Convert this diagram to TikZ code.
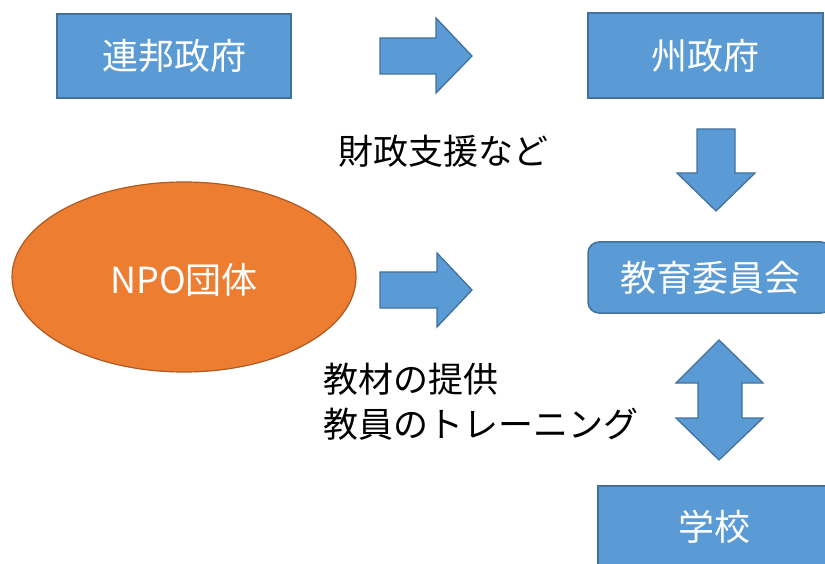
\documentclass[tikz,border=0pt]{standalone}
\usepackage{fontspec}
\setmainfont{Noto Sans CJK JP}
\definecolor{bfill}{HTML}{5B9BD5}
\definecolor{bline}{HTML}{41719C}
\definecolor{ofill}{HTML}{ED7D31}
\definecolor{oline}{HTML}{AE5A21}
\begin{document}
\begin{tikzpicture}[x=1pt,y=-1pt,
  boxst/.style={fill=bfill,draw=bline,line width=1.5pt,text=white,font=\fontsize{36}{40}\selectfont},
  blockarrow/.style={fill=bfill,draw=bline,line width=1.3pt,line join=miter},
  lbl/.style={text=black,font=\fontsize{35}{44}\selectfont}]
\useasboundingbox (0,0) rectangle (825,564);
\clip (0,0) rectangle (825,564);
% boxes
\draw[boxst] (57,14) rectangle (291,98);
\node[text=white,font=\fontsize{36}{40}\selectfont] (fed) at (174,56) {連邦政府};
\draw[boxst] (588,13) rectangle (823,98);
\node[text=white,font=\fontsize{36}{40}\selectfont] (state) at (705,56) {州政府};
\draw[boxst,rounded corners=11pt] (588,242) rectangle (832,313);
\node[text=white,font=\fontsize{36}{40}\selectfont] (board) at (710,278) {教育委員会};
\draw[boxst] (598,486) rectangle (832,572);
\node[text=white,font=\fontsize{36}{40}\selectfont] (school) at (714,527) {学校};
% ellipse
\draw[fill=ofill,draw=oline,line width=1.2pt] (184,277) ellipse [x radius=172, y radius=95];
\node[text=white,font=\fontsize{36}{40}\selectfont] (npo) at (184,280) {NPO団体};
% arrows
\draw[blockarrow] (380,38) -- (436,38) -- (436,18) -- (472,56) -- (436,93) -- (436,74) -- (380,74) -- cycle;
\draw[blockarrow] (380,272) -- (437,272) -- (437,253) -- (472,290) -- (437,327) -- (437,308) -- (380,308) -- cycle;
\draw[blockarrow] (697,129) -- (735,129) -- (735,173) -- (755,173) -- (716,211) -- (677,173) -- (697,173) -- cycle;
\draw[blockarrow] (719,340) -- (763,383) -- (742,383) -- (742,418) -- (763,418) -- (719,460) -- (676,418) -- (698,418) -- (698,383) -- (676,383) -- cycle;
% labels
\node[lbl] (fin) at (443,151) {財政支援など};
\node[lbl,anchor=west] (mat) at (320,379) {教材の提供};
\node[lbl,anchor=west] (train) at (320,424) {教員のトレーニング};
\end{tikzpicture}
\end{document}
